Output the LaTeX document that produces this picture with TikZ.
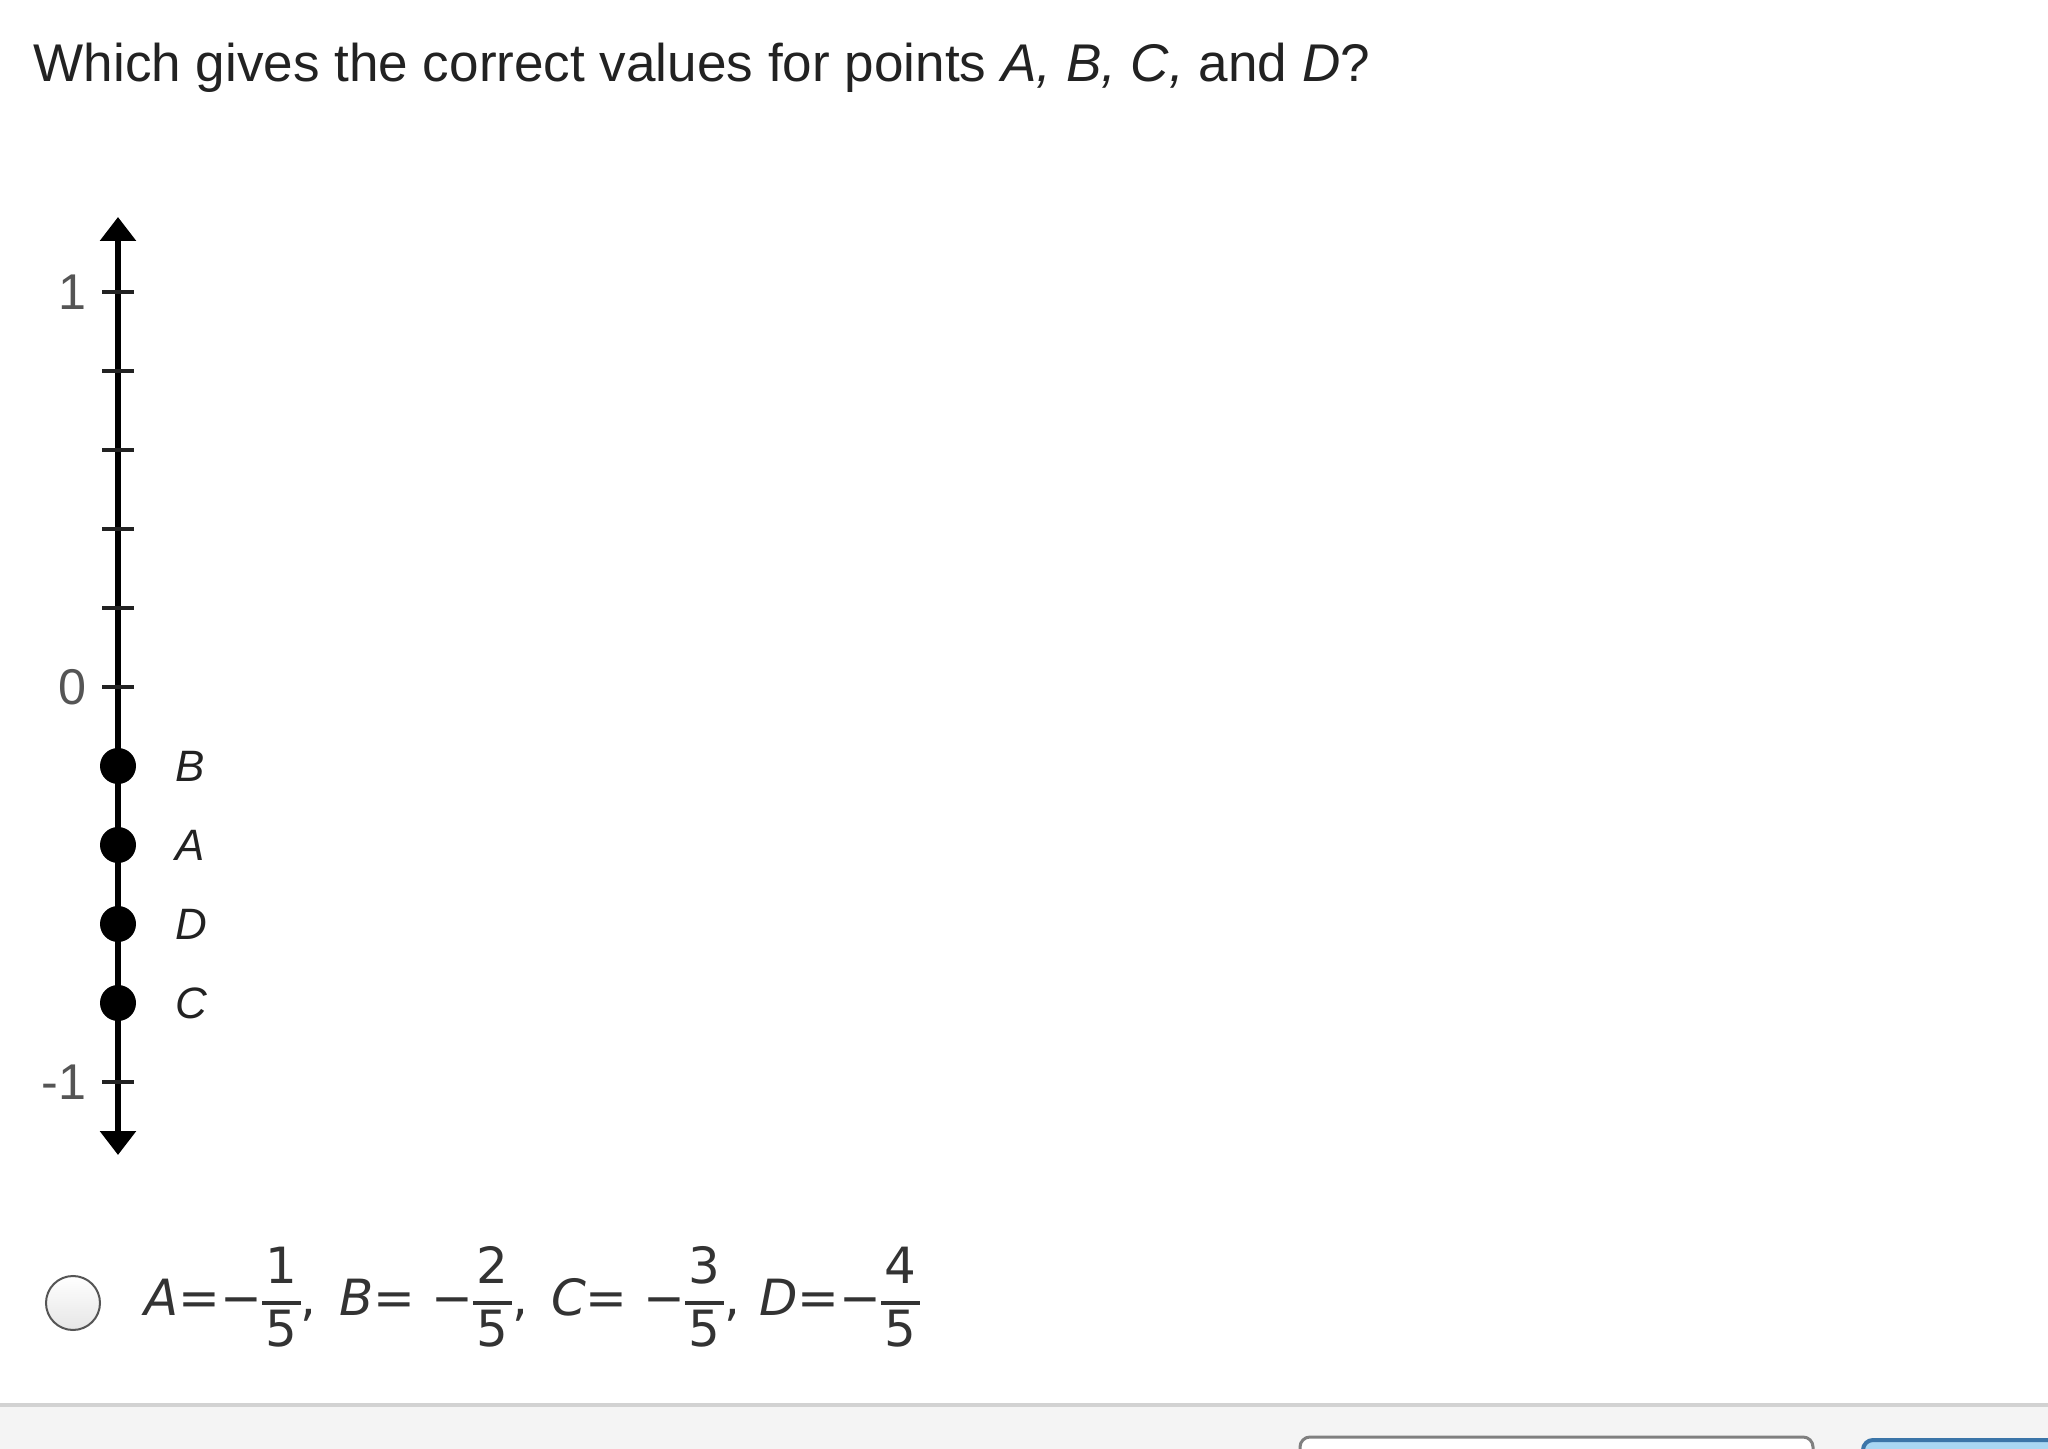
\documentclass[tikz,border=0pt]{standalone}
\usepackage{fontspec}
\setmainfont{Liberation Sans}
\newfontfamily\answerfont{DejaVu Sans}
\usetikzlibrary{arrows.meta,positioning}

\definecolor{ink}{HTML}{222222}
\definecolor{soft}{HTML}{555555}
\definecolor{dim}{HTML}{333333}
\definecolor{rule}{HTML}{D2D2D2}
\definecolor{panel}{HTML}{F4F4F4}
\definecolor{btnblue}{HTML}{A9D7F3}
\definecolor{btnedge}{HTML}{3B75A8}

\setlength{\arrayrulewidth}{1pt}
\newcommand{\vfrac}[2]{\begin{tabular}{@{\hspace{1pt}}c@{\hspace{1pt}}}#1\\\hline #2\end{tabular}}

\begin{document}
\begin{tikzpicture}[x=0.1mm,y=-0.1mm,node distance=3mm,
   axis/.style={line width=0.6mm,{Triangle[width=3.5mm,length=2.4mm]}-{Triangle[width=3.5mm,length=2.4mm]}},
   tick/.style={line width=0.4mm,draw=ink},
   dot/.style={circle,fill=black,inner sep=0pt,minimum size=3.6mm},
   ticklbl/.style={font=\fontsize{14.3}{17}\selectfont,text=soft},
   ptlbl/.style={font=\fontsize{12.5}{15}\selectfont\itshape,text=ink},
   radio/.style={circle,draw=soft,line width=0.2mm,top color=white,bottom color=gray!20,minimum size=5.4mm,inner sep=0pt}]
   \useasboundingbox (0,0) rectangle (2048,1449);
   \clip (0,0) rectangle (2048,1449);
   \fill[white] (0,0) rectangle (2048,1449);

   % question
   \node[anchor=base west,inner sep=0pt,text=ink,font=\fontsize{15.1}{18}\selectfont] (question) at (33,82)
      {Which gives the correct values for points \textit{A,} \textit{B,} \textit{C,} and \textit{D}?};

   % number line
   \coordinate (top) at (118,217);
   \coordinate (bot) at (118,1155);
   \draw[axis] (bot) -- (top);
   \foreach \k in {0,...,10}{
      \coordinate (t\k) at (118,292+79*\k);
      \draw[tick] ([xshift=-1.6mm]t\k) -- ([xshift=1.6mm]t\k);
   }
   \node[ticklbl,left=1.9mm of t0] (one) {1};
   \node[ticklbl,left=1.9mm of t5] (zero) {0};
   \node[ticklbl,left=1.9mm of t10] (minusone) {-1};

   % points
   \node[dot] (B) at (t6) {};
   \node[dot] (A) at (t7) {};
   \node[dot] (D) at (t8) {};
   \node[dot] (C) at (t9) {};
   \node[ptlbl,right=2.6mm of B] (lB) {B};
   \node[ptlbl,right=2.6mm of A] (lA) {A};
   \node[ptlbl,right=2.6mm of D] (lD) {D};
   \node[ptlbl,right=2.6mm of C] (lC) {C};

   % answer choice
   \node[radio] (choice) at (73,1303) {};
   \node[right=3.1mm of choice,text=dim,font=\answerfont\fontsize{14.2}{17}\selectfont] (answer)
      {\textit{A}=−\vfrac{1}{5},\hspace{2pt} \textit{B}= −\vfrac{2}{5},\hspace{2pt} \textit{C}= −\vfrac{3}{5},\hspace{1pt} \textit{D}=−\vfrac{4}{5}};

   % footer
   \fill[panel] (0,1405) rectangle (2048,1449);
   \draw[line width=0.4mm,draw=rule] (0,1405) -- (2048,1405);
   \draw[line width=0.3mm,draw=gray,fill=white,rounded corners=1mm] (1300,1500) rectangle (1813,1437);
   \draw[line width=0.4mm,draw=btnedge,fill=btnblue,rounded corners=1mm] (1863,1500) rectangle (2100,1440);
\end{tikzpicture}
\end{document}
